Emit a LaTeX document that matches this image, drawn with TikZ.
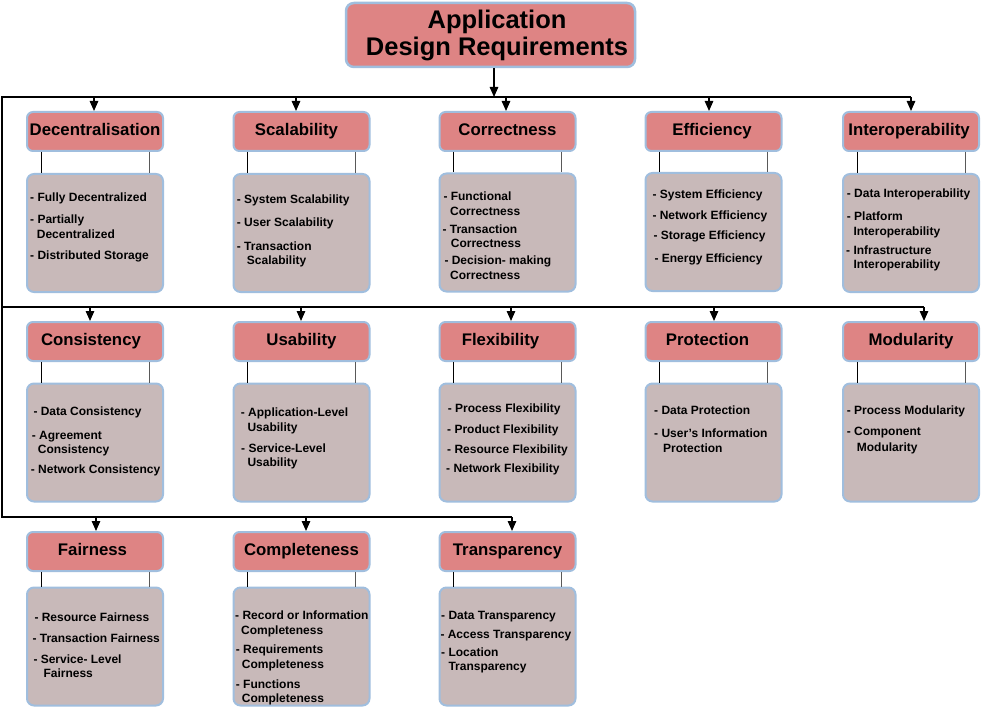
\documentclass[tikz,border=0pt]{standalone}
\usepackage{fontspec}
\setmainfont{Liberation Sans}
\usetikzlibrary{arrows.meta}
\definecolor{hdrfill}{RGB}{222,132,132}
\definecolor{boxfill}{RGB}{200,185,185}
\definecolor{edgeblue}{RGB}{160,190,222}
\newcommand\myitem[4]{\node[itm] (#1) at (#2,#3) {#4};}
\begin{document}
\begin{tikzpicture}[x=1pt,y=-1pt,
  ttl/.style={draw=edgeblue, line width=2.5pt, fill=hdrfill, rounded corners=8pt,
    minimum width=289pt, minimum height=64pt, align=center, inner sep=0pt,
    font=\bfseries\fontsize{25.5}{27}\selectfont},
  hdr/.style={draw=edgeblue, line width=2pt, fill=hdrfill, rounded corners=6pt,
    minimum width=136pt, minimum height=39pt, inner sep=0pt,
    font=\bfseries\fontsize{16.8}{18}\selectfont, text height=12pt, text depth=3.6pt},
  cbox/.style={draw=edgeblue, line width=2pt, fill=boxfill, rounded corners=7pt,
    minimum width=136pt, minimum height=118pt, inner sep=0pt},
  itm/.style={font=\bfseries\fontsize{12}{14}\selectfont, inner sep=0pt, anchor=base west},
  arr/.style={-{Triangle[length=10pt,width=8.5pt]}, line width=1.3pt},
  bus/.style={line width=1.8pt},
  conL/.style={line width=1pt, black},
  conR/.style={line width=1pt, black!65}]
\useasboundingbox (0,0) rectangle (981,708);
\fill[white] (0,0) rectangle (981,708);

% title
\node[ttl] (title) at (490.5,35) {\hspace*{13pt}Application\\\hspace*{13pt}Design Requirements};

% headers
\node[hdr] (hA1) at (95,131.5) {Decentralisation};
\node[hdr] (hB1) at (301.5,131.5) {\hspace*{-10pt}Scalability};
\node[hdr] (hC1) at (507.5,131.5) {Correctness};
\node[hdr] (hD1) at (713.5,131.5) {\hspace*{-3pt}Efficiency};
\node[hdr] (hE1) at (911,131.5) {\hspace*{-4pt}Interoperability};

\node[hdr] (hA2) at (95,341.5) {\hspace*{-8pt}Consistency};
\node[hdr] (hB2) at (301.5,341.5) {Usability};
\node[hdr] (hC2) at (507.5,341.5) {\hspace*{-14pt}Flexibility};
\node[hdr] (hD2) at (713.5,341.5) {\hspace*{-12pt}Protection};
\node[hdr] (hE2) at (911,341.5) {Modularity};

\node[hdr] (hA3) at (95,551.5) {\hspace*{-5pt}Fairness};
\node[hdr] (hB3) at (301.5,551.5) {Completeness};
\node[hdr] (hC3) at (507.5,551.5) {Transparency};

% content boxes
\node[cbox] (cA1) at (95,233) {};
\node[cbox] (cB1) at (301.5,233) {};
\node[cbox] (cC1) at (507.5,232.5) {};
\node[cbox] (cD1) at (713.5,232) {};
\node[cbox] (cE1) at (911,233) {};

\node[cbox] (cA2) at (95,442.5) {};
\node[cbox] (cB2) at (301.5,442.5) {};
\node[cbox] (cC2) at (507.5,442.5) {};
\node[cbox] (cD2) at (713.5,442.5) {};
\node[cbox] (cE2) at (911,442.5) {};

\node[cbox] (cA3) at (95,646.5) {};
\node[cbox] (cB3) at (301.5,646.5) {};
\node[cbox] (cC3) at (507.5,646.5) {};

% header-to-box connectors
\foreach \n in {A1,B1,C1,D1,E1,A2,B2,C2,D2,E2,A3,B3,C3}{
  \draw[conL] ([xshift=15pt]h\n.south west) -- ([xshift=15pt]c\n.north west);
  \draw[conR] ([xshift=-15pt]h\n.south east) -- ([xshift=-15pt]c\n.north east);
}

% bus lines
\coordinate (j0) at (494,97);
\coordinate (busT) at (2,97);
\coordinate (busM) at (2,307);
\coordinate (busB) at (2,517);
\foreach \n/\x/\y in {A1/94/97, B1/296/97, C1/506/97, D1/709/97, E1/911/97,
                      A2/90/307, B2/301/307, C2/511/307, D2/714/307, E2/924/307,
                      A3/96/517, B3/306/517, C3/512/517}{
  \coordinate (a\n) at (\x,\y);
}
\draw[bus] (aE1) -- (busT) -- (busB) -- (aC3);
\draw[bus] (busM) -- (aE2);
\draw[arr] (j0 |- title.south) -- (j0);
\foreach \n in {A1,B1,C1,D1,E1,A2,B2,C2,D2,E2,A3,B3,C3}{
  \draw[arr] (a\n) -- (a\n |- h\n.north);
}

% items row 1
\myitem{a11}{30}{202}{- Fully Decentralized}
\myitem{a12}{30}{224}{- Partially}
\myitem{a13}{36.7}{239}{Decentralized}
\myitem{a14}{30}{259.5}{- Distributed Storage}

\myitem{b11}{236.7}{203.5}{- System Scalability}
\myitem{b12}{236.7}{227}{- User Scalability}
\myitem{b13}{236.7}{250.5}{- Transaction}
\myitem{b14}{246.7}{265}{Scalability}

\myitem{c11}{443.3}{201}{- Functional}
\myitem{c12}{450}{216}{Correctness}
\myitem{c13}{442.3}{234}{- Transaction}
\myitem{c14}{450.7}{248}{Correctness}
\myitem{c15}{444.3}{264.5}{- Decision- making}
\myitem{c16}{450}{279.5}{Correctness}

\myitem{d11}{652.3}{198.5}{- System Efficiency}
\myitem{d12}{652.3}{219.5}{- Network Efficiency}
\myitem{d13}{653.3}{240}{- Storage Efficiency}
\myitem{d14}{654.3}{262}{- Energy Efficiency}

\myitem{e11}{846.7}{198}{- Data Interoperability}
\myitem{e12}{846.7}{221}{- Platform}
\myitem{e13}{853.3}{235.5}{Interoperability}
\myitem{e14}{846}{255}{- Infrastructure}
\myitem{e15}{853.3}{268.5}{Interoperability}

% items row 2
\myitem{a21}{33.3}{415}{- Data Consistency}
\myitem{a22}{31.7}{439}{- Agreement}
\myitem{a23}{37.7}{453.5}{Consistency}
\myitem{a24}{30.7}{473.5}{- Network Consistency}

\myitem{b21}{240.7}{416}{- Application-Level}
\myitem{b22}{247.3}{431}{Usability}
\myitem{b23}{241}{452}{- Service-Level}
\myitem{b24}{247.3}{466}{Usability}

\myitem{c21}{447.7}{412}{- Process Flexibility}
\myitem{c22}{447}{433}{- Product Flexibility}
\myitem{c23}{447}{453}{- Resource Flexibility}
\myitem{c24}{446}{472}{- Network Flexibility}

\myitem{d21}{654}{414.5}{- Data Protection}
\myitem{d22}{654}{437.5}{- User{\char"0027}s Information}
\myitem{d23}{663}{452.5}{Protection}

\myitem{e21}{846.7}{414.5}{- Process Modularity}
\myitem{e22}{846.7}{435.5}{- Component}
\myitem{e23}{856.7}{451}{Modularity}

% items row 3
\myitem{a31}{34.3}{621}{- Resource Fairness}
\myitem{a32}{32.3}{642}{- Transaction Fairness}
\myitem{a33}{33.3}{663}{- Service- Level}
\myitem{a34}{43.3}{677}{Fairness}

\myitem{b31}{235}{619.5}{- Record or Information}
\myitem{b32}{241}{634}{Completeness}
\myitem{b33}{235.7}{653.5}{- Requirements}
\myitem{b34}{241.7}{668.5}{Completeness}
\myitem{b35}{235.7}{688}{- Functions}
\myitem{b36}{241.7}{702}{Completeness}

\myitem{c31}{441}{619.5}{- Data Transparency}
\myitem{c32}{440.3}{638}{- Access Transparency}
\myitem{c33}{441}{656}{- Location}
\myitem{c34}{448.3}{670.5}{Transparency}
\end{tikzpicture}
\end{document}
